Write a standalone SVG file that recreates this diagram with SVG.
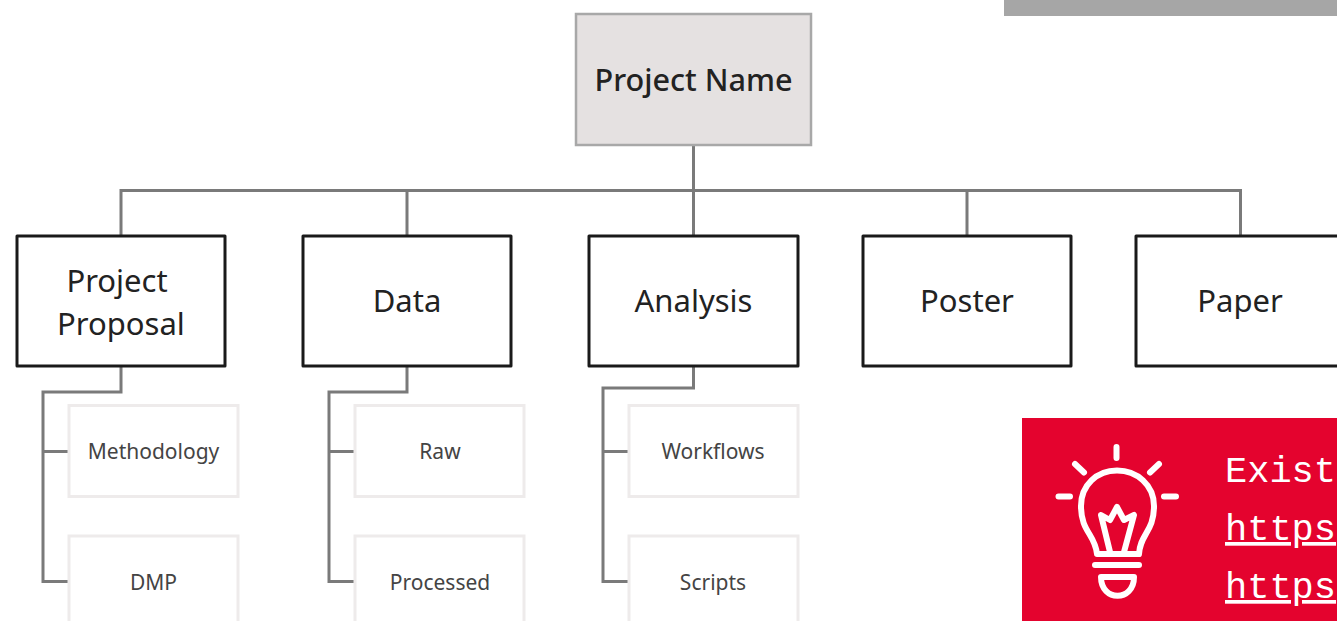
<svg xmlns="http://www.w3.org/2000/svg" width="1337" height="621" viewBox="0 0 1337 621">
<style>
.t{font-family:"Noto Sans","Open Sans",sans-serif;text-anchor:middle}
.m{fill:#fff;stroke:#1a1a1a;stroke-width:3;stroke-linejoin:round}
.mt{font-size:31px;fill:#222}
.s{fill:#fff;stroke:#eeebeb;stroke-width:3}
.st{font-size:21px;fill:#444}
.c{fill:none;stroke:#7a7a7a;stroke-width:3}
.b{fill:none;stroke:#fff;stroke-width:6;stroke-linecap:round;stroke-linejoin:round}
.x{font-family:"Liberation Mono",monospace;font-size:37px;fill:#fff}
</style>
<rect width="1337" height="621" fill="#fff"/>
<rect x="1004" y="0" width="333" height="16" fill="#a6a6a6"/>
<g id="connectors">
<path class="c" d="M693.500 144V236M121 236V190.500H1240.500V236M407 190.500V236M967 190.500V236"/>
<path class="c" d="M121 366V392H43V581.500H70M43 451.500H70"/>
<path class="c" d="M407 366V392H329V581.500H356M329 451.500H356"/>
<path class="c" d="M693.500 366V388H603V581.500H630M603 451.500H630"/>
</g>
<g id="root"><rect x="576" y="14" width="235" height="131" fill="#e5e1e1" stroke="#a8a8a8" stroke-width="2.500"/><text class="t" x="693.500" y="91" font-size="31" font-weight="500" fill="#222" textLength="198" lengthAdjust="spacingAndGlyphs">Project Name</text></g>
<g id="proposal"><rect class="m" x="17" y="236" width="208" height="130"/><text class="t mt" x="117" y="292">Project</text><text class="t mt" x="121" y="335">Proposal</text></g>
<g id="data"><rect class="m" x="303" y="236" width="208" height="130"/><text class="t mt" x="407" y="312">Data</text></g>
<g id="analysis"><rect class="m" x="589" y="236" width="209" height="130"/><text class="t mt" x="693.500" y="312">Analysis</text></g>
<g id="poster"><rect class="m" x="863" y="236" width="208" height="130"/><text class="t mt" x="967" y="312">Poster</text></g>
<g id="paper"><rect class="m" x="1136" y="236" width="208" height="130"/><text class="t mt" x="1240" y="312">Paper</text></g>
<g id="methodology"><rect class="s" x="69" y="405.500" width="169" height="91"/><text class="t st" x="153.500" y="459">Methodology</text></g>
<g id="dmp"><rect class="s" x="69" y="536" width="169" height="100"/><text class="t st" x="153.500" y="589.500">DMP</text></g>
<g id="raw"><rect class="s" x="355" y="405.500" width="169" height="91"/><text class="t st" x="440" y="459">Raw</text></g>
<g id="processed"><rect class="s" x="355" y="536" width="169" height="100"/><text class="t st" x="440" y="589.500">Processed</text></g>
<g id="workflows"><rect class="s" x="629" y="405.500" width="169" height="91"/><text class="t st" x="713" y="459">Workflows</text></g>
<g id="scripts"><rect class="s" x="629" y="536" width="169" height="100"/><text class="t st" x="713" y="589.500">Scripts</text></g>
<g id="callout">
<rect x="1022" y="418" width="315" height="203" fill="#e4032e"/>
<path class="b" d="M1116.500 447V458M1075 464L1084 472.500M1159 464L1150 472.500M1058.500 496.500H1070M1176 496.500H1164"/>
<path class="b" d="M1097 554C1095 534 1081 532 1081 506C1081 485 1097 470.500 1117 470.500C1137 470.500 1154 485 1154 506C1154 532 1140 534 1139 554Z"/>
<path class="b" d="M1110 552L1101 515L1110 520L1117 507L1124 520L1134 515L1124 552"/>
<path class="b" d="M1095 565H1139"/>
<path class="b" d="M1101 577H1134C1134 602 1101 602 1101 577Z"/>
<text class="x" x="1225" y="482">Exist</text>
<text class="x" x="1225" y="540" text-decoration="underline" style="text-decoration-thickness:4px;text-underline-offset:6px">https</text>
<text class="x" x="1225" y="598" text-decoration="underline" style="text-decoration-thickness:4px;text-underline-offset:6px">https</text>
</g>
</svg>
